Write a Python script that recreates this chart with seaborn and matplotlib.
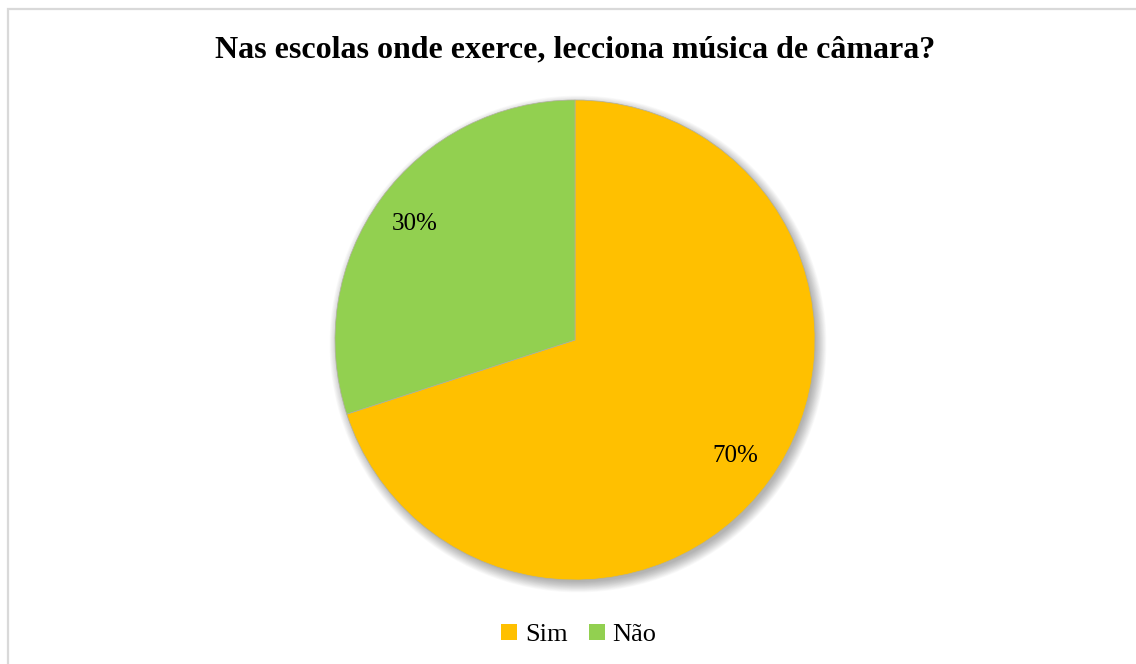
import matplotlib
matplotlib.use("Agg")
import matplotlib.pyplot as plt
from matplotlib.patches import Circle, Rectangle
import seaborn as sns

# Survey answers
categories = ["Sim", "Não"]
shares = [70, 30]
colors = ["#FFC000", "#92D050"]
title = "Nas escolas onde exerce, lecciona música de câmara?"

sns.set_theme(style="white")
plt.rcParams["font.family"] = ["Liberation Serif", "DejaVu Serif"]

W, H = 1136, 664
fig = plt.figure(figsize=(W / 100, H / 100), dpi=100)
ax = fig.add_axes([0, 0, 1, 1])

# Chart area frame
ax.add_patch(Rectangle((8, -5), W + 10, H - 9 + 5, fill=False,
                       edgecolor="#D9D9D9", linewidth=1.6, zorder=0))

cx, cy, r = 575, H - 340, 240

# Soft drop shadow under the pie
for i in range(16):
    ax.add_patch(Circle((cx + 3, cy - 4), r - 2 + i * 0.7, color="#000000",
                        alpha=0.02, linewidth=0, zorder=1))

wedges, texts, autotexts = ax.pie(
    shares, colors=colors, startangle=90, counterclock=False,
    center=(cx, cy), radius=r, autopct="%1.0f%%", pctdistance=0.825,
    wedgeprops=dict(linewidth=0.5, edgecolor="#b0b0a0"),
    textprops=dict(fontsize=18, color="#000000"), frame=True)
for w in wedges:
    w.set_zorder(2)
for t in autotexts:
    t.set_zorder(3)
ax.set_xlim(0, W)
ax.set_ylim(0, H)
ax.set_axis_off()

ax.text(W / 2 + 7, H - 50, title, ha="center", va="center",
        fontsize=23, fontweight="bold", color="#000000")

leg = ax.legend(wedges, categories, loc="center", bbox_to_anchor=(579 / W, 1 - 635 / H),
                ncol=2, frameon=False, fontsize=19, handlelength=0.6, handleheight=0.6,
                handletextpad=0.3, columnspacing=0.8, labelcolor="#000000")
for h in leg.legend_handles:
    h.set_edgecolor("none")

fig.savefig("out.png", dpi=100, facecolor="white")
